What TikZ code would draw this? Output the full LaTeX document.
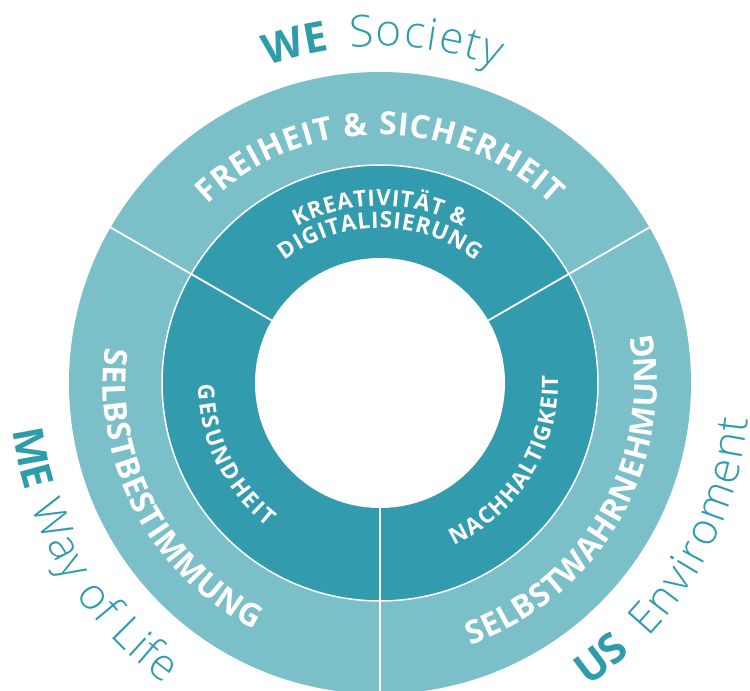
\documentclass[tikz,border=0pt]{standalone}
\usepackage{fontspec}
\setmainfont{Open Sans}
\IfFontExistsTF{Open Sans Light}{\newfontfamily\lightfont{Open Sans Light}}{%
  \IfFontExistsTF{Fira Sans Light}{\newfontfamily\lightfont{Fira Sans Light}}{\newfontfamily\lightfont{Open Sans}}}
\IfFontExistsTF{Open Sans ExtraBold}{\newfontfamily\xbfont{Open Sans ExtraBold}}{\def\xbfont{\bfseries}}
\usetikzlibrary{decorations.text}

\definecolor{ringlight}{RGB}{123,191,201}
\definecolor{ringdark}{RGB}{50,155,174}
\definecolor{labelteal}{RGB}{47,156,172}

\newcommand\fOut{\fontsize{32}{38}\selectfont\bfseries}
\newcommand\fIn{\fontsize{22.5}{27}\selectfont\bfseries}
\newcommand\fBig{\fontsize{42}{50}\selectfont\xbfont}
\newcommand\fLight{\fontsize{44}{52}\selectfont\lightfont}

\tikzset{
  fittext/.style={decorate, decoration={text along path, text align={fit to path}, #1}},
  lefttext/.style={decorate, decoration={text along path, text align=left, #1}},
  divider/.style={draw=white, line width=1.8pt},
}

\begin{document}
\begin{tikzpicture}
\useasboundingbox (0pt,0pt) rectangle (750pt,691pt);
\coordinate (C) at (380pt,308pt);

% rings
\fill[ringlight] (C) circle[radius=311pt];
\fill[ringdark] (C) circle[radius=218pt];
\fill[white] (C) circle[radius=125pt];
\draw[white, line width=1.5pt] (C) circle[radius=218pt];

% dividers
\foreach \a in {30,150,270}
  \draw[divider] ([shift={(\a:125pt)}]C) -- ([shift={(\a:311pt)}]C);

% outer ring labels
\path[fittext={text={|\fOut|FREIHEIT {\&} SICHERHEIT}, text color=white}]
  ([shift={(134:248pt)}]C) arc[start angle=134, end angle=46, radius=248pt];
\path[fittext={text={|\fOut|SELBSTBESTIMMUNG}, text color=white}]
  ([shift={(172.6:277pt)}]C) arc[start angle=172.6, end angle=243, radius=277pt];
\path[fittext={text={|\fOut|SELBSTWAHRNEHMUNG}, text color=white}]
  ([shift={(289:277pt)}]C) arc[start angle=289, end angle=370.3, radius=277pt];

% inner ring labels
\path[fittext={text={|\fIn|KREATIVIT{Ä}T {\&}}, text color=white}]
  ([shift={(118:177pt)}]C) arc[start angle=118, end angle=62, radius=177pt];
\path[fittext={text={|\fIn|DIGITALISIERUNG}, text color=white}]
  ([shift={(128:155pt)}]C) arc[start angle=128, end angle=52, radius=155pt];
\path[fittext={text={|\fIn|GESUNDHEIT}, text color=white}]
  ([shift={(180.5:182pt)}]C) arc[start angle=180.5, end angle=232, radius=182pt];
\path[fittext={text={|\fIn|NACHHALTIGKEIT}, text color=white}]
  ([shift={(294.5:178pt)}]C) arc[start angle=294.5, end angle=362.5, radius=178pt];

% outside labels
\path[lefttext={text={|\fBig|WE}, text color=labelteal}]
  ([shift={(109.5:336pt)}]C) arc[start angle=109.5, end angle=90, radius=336pt];
\path[fittext={text={|\fLight|Society}, text color=labelteal}]
  ([shift={(95.1:337pt)}]C) arc[start angle=95.1, end angle=69.6, radius=337pt];

\path[lefttext={text={|\fBig|ME}, text color=labelteal}]
  ([shift={(187.3:370pt)}]C) arc[start angle=187.3, end angle=205, radius=370pt];
\path[fittext={text={|\fLight|Way of Life}, text color=labelteal}]
  ([shift={(199.5:370pt)}]C) arc[start angle=199.5, end angle=234.4, radius=370pt];

\path[lefttext={text={|\fBig|US}, text color=labelteal}]
  ([shift={(304.5:368pt)}]C) arc[start angle=304.5, end angle=322, radius=368pt];
\path[fittext={text={|\fLight|Enviroment}, text color=labelteal}]
  ([shift={(316.5:370pt)}]C) arc[start angle=316.5, end angle=354.5, radius=370pt];
\end{tikzpicture}
\end{document}
